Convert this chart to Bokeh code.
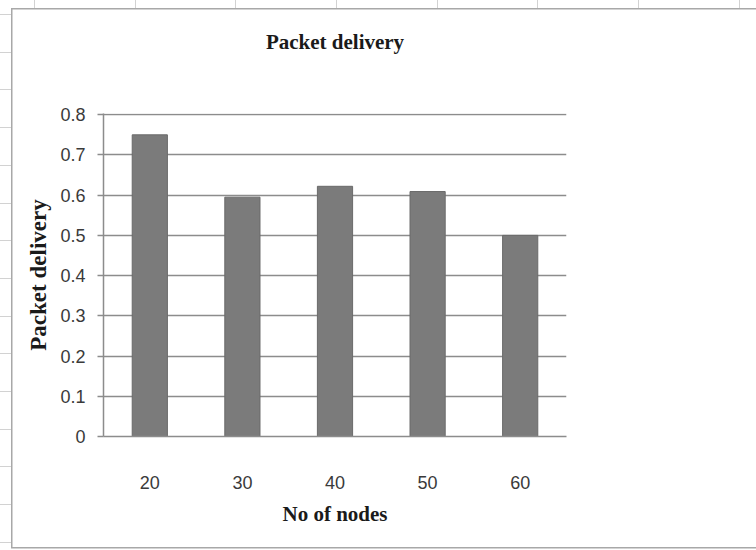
from bokeh.plotting import figure
from bokeh.models import Range1d, Title
from bokeh.embed import file_html
from bokeh.resources import INLINE

# Packet delivery ratio per network size
nodes = ["20", "30", "40", "50", "60"]
delivery = [0.75, 0.595, 0.622, 0.609, 0.50]

y_ticks = [0.0, 0.1, 0.2, 0.3, 0.4, 0.5, 0.6, 0.7, 0.8]
y_tick_labels = ["0", "0.1", "0.2", "0.3", "0.4", "0.5", "0.6", "0.7", "0.8"]

GRID = "#8c8c8c"
BAR = "#7b7b7b"
SHEET = "#d2d2d2"
EDGE = "#a8a8a8"

p = figure(
    width=756, height=549,
    x_range=nodes, y_range=Range1d(0, 0.803),
    output_backend="svg", toolbar_location=None,
    min_border_left=103, min_border_right=190,
    min_border_top=113, min_border_bottom=113,
    title="Packet delivery",
)
p.outline_line_color = None
p.background_fill_color = "white"
# leave the surround transparent so the worksheet backdrop shows through
p.border_fill_color = None

# worksheet backdrop: chart-area edge (left, top, bottom) and the cell lines around it
backdrop = ", ".join([
    f"linear-gradient({EDGE}, {EDGE}) 11px 8px / 1.5px 540px no-repeat",
    f"linear-gradient({EDGE}, {EDGE}) 11px 8px / 745px 1.5px no-repeat",
    f"linear-gradient({EDGE}, {EDGE}) 11px 547px / 745px 1.5px no-repeat",
    f"repeating-linear-gradient(to right, transparent 0px, transparent 34px, {SHEET} 34px, "
    f"{SHEET} 35px, transparent 35px, transparent 100.7px) 0px 0px / 756px 8px no-repeat",
    f"repeating-linear-gradient(to bottom, transparent 0px, transparent 14px, {SHEET} 14px, "
    f"{SHEET} 15px, transparent 15px, transparent 37.7px) 0px 0px / 11px 549px no-repeat",
    "white",
])
p.styles = {"background": backdrop, "overflow": "hidden"}

p.title.align = "center"
p.title.text_font = "Liberation Serif"
p.title.text_font_style = "bold"
p.title.text_font_size = "21px"
p.title.text_color = "#1a1a1a"
p.title.standoff = 0

# blank band between the chart title and the plot area
p.add_layout(Title(text=" ", text_font_size="1px", standoff=57), "above")

p.vbar(x=nodes, top=delivery, width=0.38, fill_color=BAR, line_color="#6a6a6a", line_width=1)

# value axis
p.yaxis.ticker = y_ticks
p.yaxis.major_label_overrides = {t: s for t, s in zip(y_ticks, y_tick_labels)}
p.yaxis.axis_line_color = GRID
p.yaxis.axis_line_width = 1.5
p.yaxis.major_tick_line_color = GRID
p.yaxis.major_tick_line_width = 1.5
p.yaxis.major_tick_in = 0
p.yaxis.major_tick_out = 6
p.yaxis.minor_tick_line_color = None
p.yaxis.major_label_standoff = 12
p.yaxis.major_label_text_font = "Liberation Sans"
p.yaxis.major_label_text_font_size = "18px"
p.yaxis.major_label_text_color = "#3a3a3a"
p.yaxis.axis_label = "Packet delivery"
p.yaxis.axis_label_text_font = "Liberation Serif"
p.yaxis.axis_label_text_font_style = "bold"
p.yaxis.axis_label_text_font_size = "23px"
p.yaxis.axis_label_text_color = "#1a1a1a"
p.yaxis.axis_label_standoff = 6

# category axis
p.xaxis.axis_line_color = GRID
p.xaxis.axis_line_width = 1.5
p.xaxis.major_tick_line_color = None
p.xaxis.minor_tick_line_color = None
p.xaxis.major_label_standoff = 33
p.xaxis.major_label_text_font = "Liberation Sans"
p.xaxis.major_label_text_font_size = "18px"
p.xaxis.major_label_text_color = "#3a3a3a"
p.xaxis.axis_label = "No of nodes"
p.xaxis.axis_label_text_font = "Liberation Serif"
p.xaxis.axis_label_text_font_style = "bold"
p.xaxis.axis_label_text_font_size = "21px"
p.xaxis.axis_label_text_color = "#1a1a1a"
p.xaxis.axis_label_standoff = 10

p.xgrid.grid_line_color = None
p.ygrid.grid_line_color = GRID
p.ygrid.grid_line_width = 1.5

open("out.html", "w").write(file_html(p, INLINE))
